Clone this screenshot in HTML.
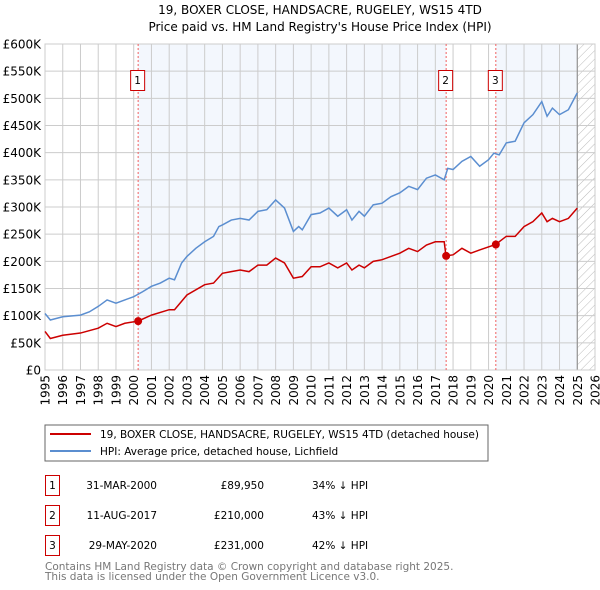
<!DOCTYPE html>
<html><head><meta charset="utf-8"><style>
body{margin:0;background:#fff;font-family:"DejaVu Sans","Liberation Sans",sans-serif;}
svg{display:block}
</style></head><body>
<svg id="c" width="600" height="590" xmlns="http://www.w3.org/2000/svg" font-family="DejaVu Sans, Liberation Sans, sans-serif">
<text x="320" y="14" font-size="12" text-anchor="middle">19, BOXER CLOSE, HANDSACRE, RUGELEY, WS15 4TD</text>
<text x="320" y="31" font-size="12" text-anchor="middle">Price paid vs. HM Land Registry's House Price Index (HPI)</text>
<defs><pattern id="h" width="6" height="6" patternUnits="userSpaceOnUse" patternTransform="rotate(45)"><line x1="0" y1="0" x2="0" y2="6" stroke="#bbb" stroke-width="1"/></pattern></defs>
<g id="plot"></g>
<rect x="45" y="425" width="443" height="36" fill="none" stroke="#666"/>
<line x1="50" y1="434" x2="91" y2="434" stroke="#cc0000" stroke-width="2"/>
<text x="100" y="438" font-size="10.5">19, BOXER CLOSE, HANDSACRE, RUGELEY, WS15 4TD (detached house)</text>
<line x1="50" y1="451" x2="91" y2="451" stroke="#5b8ed0" stroke-width="2"/>
<text x="100" y="455" font-size="10.5">HPI: Average price, detached house, Lichfield</text>
<g font-size="10.5">
<rect x="45.5" y="475.5" width="14" height="20" fill="none" stroke="#cc0000"/><text x="52.5" y="489" text-anchor="middle">1</text>
<text x="157" y="489" text-anchor="end">31-MAR-2000</text><text x="264" y="489" text-anchor="end">£89,950</text><text x="312" y="489">34% ↓ HPI</text>
<rect x="45.5" y="505.5" width="14" height="20" fill="none" stroke="#cc0000"/><text x="52.5" y="519" text-anchor="middle">2</text>
<text x="157" y="519" text-anchor="end">11-AUG-2017</text><text x="264" y="519" text-anchor="end">£210,000</text><text x="312" y="519">43% ↓ HPI</text>
<rect x="45.5" y="535.5" width="14" height="20" fill="none" stroke="#cc0000"/><text x="52.5" y="549" text-anchor="middle">3</text>
<text x="157" y="549" text-anchor="end">29-MAY-2020</text><text x="264" y="549" text-anchor="end">£231,000</text><text x="312" y="549">42% ↓ HPI</text>
</g>
<text x="45" y="570" font-size="10.5" fill="#777">Contains HM Land Registry data © Crown copyright and database right 2025.</text>
<text x="45" y="580" font-size="10.5" fill="#777">This data is licensed under the Open Government Licence v3.0.</text>
</svg>
<script>
const hpiYears=[1995,1995.3,1996,1997,1997.5,1998,1998.5,1999,1999.5,2000,2000.5,2001,2001.5,2002,2002.3,2002.7,2003,2003.5,2004,2004.5,2004.8,2005,2005.5,2006,2006.5,2007,2007.5,2008,2008.5,2009,2009.3,2009.5,2010,2010.5,2011,2011.5,2012,2012.3,2012.7,2013,2013.5,2014,2014.5,2015,2015.5,2016,2016.5,2017,2017.5,2017.7,2018,2018.5,2019,2019.5,2020,2020.3,2020.6,2021,2021.5,2022,2022.5,2023,2023.3,2023.6,2024,2024.5,2025];
const hpiValues=[104,92,98,101,107,117,129,123,129,135,144,154,160,169,166,197,209,224,236,246,264,267,276,279,276,292,295,313,298,255,264,258,286,289,298,283,295,276,292,283,304,307,319,326,338,332,353,359,350,371,369,384,393,375,387,399,396,418,421,455,470,494,467,482,470,479,510];
const propYears=[1995,1995.3,1996,1997,1998,1998.5,1999,1999.5,2000.25,2001,2002,2002.3,2003,2004,2004.5,2005,2005.5,2006,2006.5,2007,2007.5,2008,2008.5,2009,2009.5,2010,2010.5,2011,2011.5,2012,2012.3,2012.7,2013,2013.5,2014,2014.5,2015,2015.5,2016,2016.5,2017,2017.5,2017.6,2018,2018.5,2019,2019.5,2020.4,2021,2021.5,2022,2022.5,2023,2023.3,2023.6,2024,2024.5,2025];
const propValues=[71,58,64,68,77,86,80,86,90,101,111,111,138,157,160,178,181,184,181,193,193,206,197,169,172,190,190,197,188,197,184,193,188,200,203,209,215,224,218,230,236,236,210,212,224,215,221,231,246,246,264,273,289,273,279,273,279,298];
const saleLabels=["1","2","3"];
const saleYears=[2000.25,2017.61,2020.41];
const saleValues=[89.95,210,231];
const yTicks=[0,50,100,150,200,250,300,350,400,450,500,550,600];
const yTickLabels=["£0","£50K","£100K","£150K","£200K","£250K","£300K","£350K","£400K","£450K","£500K","£550K","£600K"];
const xTicks=[1995,1996,1997,1998,1999,2000,2001,2002,2003,2004,2005,2006,2007,2008,2009,2010,2011,2012,2013,2014,2015,2016,2017,2018,2019,2020,2021,2022,2023,2024,2025,2026];

const X0=45,X1=595,Y0=370,Y1=44;
const xs=y=>X0+(y-1995)/(2026-1995)*(X1-X0);
const ys=v=>Y0-v/600*(Y0-Y1);
const NS="http://www.w3.org/2000/svg";
const g=document.getElementById('plot');
function mk(t,a){const e=document.createElementNS(NS,t);for(const k in a)e.setAttribute(k,a[k]);g.appendChild(e);return e;}
let e;
e=mk('rect',{x:xs(saleYears[0]),y:Y1,width:xs(saleYears[1])-xs(saleYears[0]),height:Y0-Y1,fill:'#eef3fc',opacity:0.7});


e=mk('rect',{x:xs(saleYears[2]),y:Y1,width:xs(2025)-xs(saleYears[2]),height:Y0-Y1,fill:'#eef3fc',opacity:0.7});


e=mk('rect',{x:xs(2025),y:Y1,width:X1-xs(2025),height:Y0-Y1,fill:'url(#h)'});


yTicks.forEach((t,i)=>{
 e=mk('line',{x1:X0,x2:X1,y1:ys(t),y2:ys(t),stroke:'#ccc'});
 
 
 e=mk('text',{x:41,y:ys(t)+4.5,'font-size':12,'text-anchor':'end'});e.textContent=yTickLabels[i];
 
 
});
xTicks.forEach(t=>{
 e=mk('line',{x1:xs(t),x2:xs(t),y1:Y1,y2:Y0,stroke:'#ccc'});
 
 
 e=mk('text',{x:0,y:0,'font-size':12,'text-anchor':'end',transform:`translate(${xs(t)+4.5},${Y0+5}) rotate(-90)`});e.textContent=t;
 
 
});
e=mk('line',{x1:xs(2025),x2:xs(2025),y1:Y1,y2:Y0,stroke:'#888','stroke-width':1});


e=mk('rect',{x:X0,y:Y1,width:X1-X0,height:Y0-Y1,fill:'none',stroke:'#ccc'});


saleYears.forEach((s,i)=>{
 e=mk('line',{x1:xs(s),x2:xs(s),y1:Y1,y2:Y0,stroke:'#f06060','stroke-dasharray':'2,2','stroke-width':1});
 
 
});
e=mk('polyline',{points:hpiYears.map((y,i)=>xs(y)+','+ys(hpiValues[i])).join(' '),fill:'none',stroke:'#5b8ed0','stroke-width':1.5});


e=mk('polyline',{points:propYears.map((y,i)=>xs(y)+','+ys(propValues[i])).join(' '),fill:'none',stroke:'#cc0000','stroke-width':1.5});


saleYears.forEach((s,i)=>{
 e=mk('circle',{cx:xs(s),cy:ys(saleValues[i]),r:4,fill:'#cc0000'});
 
 
 e=mk('rect',{x:xs(s)-7.5,y:70.5,width:14,height:20,fill:'#fff',stroke:'#cc0000'});
 
 
 e=mk('text',{x:xs(s)-0.5,y:84,'font-size':10.5,'text-anchor':'middle'});e.textContent=saleLabels[i];
 
 
});
</script>
</body></html>
